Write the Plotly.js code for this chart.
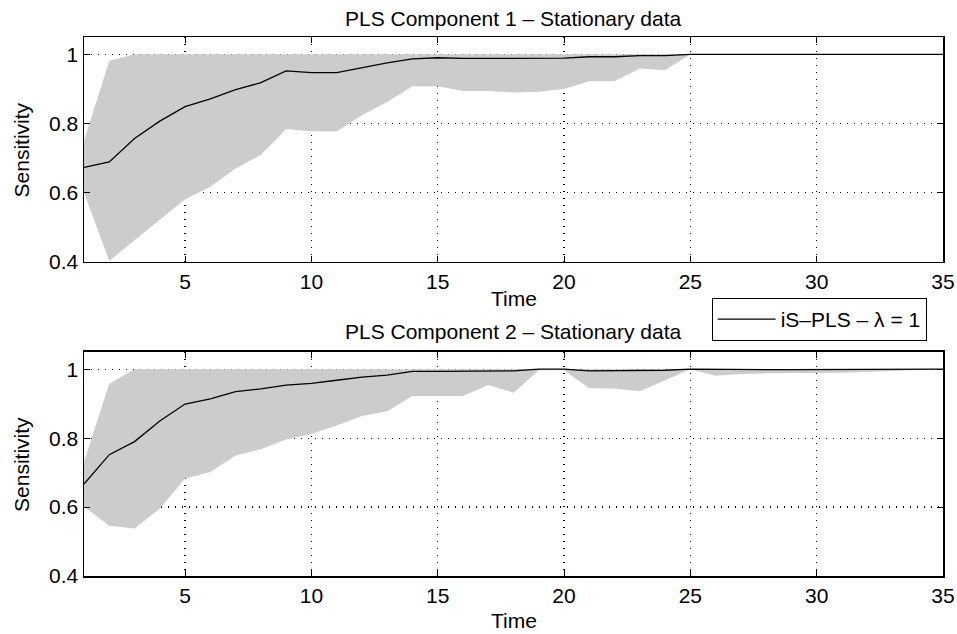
<!DOCTYPE html>
<html>
<head>
<meta charset="utf-8">
<script src="https://cdn.plot.ly/plotly-3.0.1.min.js"></script>
<style>html,body{margin:0;padding:0;background:#fff}#chart{width:957px;height:634px}</style>
</head>
<body>
<div id="chart"></div>
<script>
// Time steps
var time = [1,2,3,4,5,6,7,8,9,10,11,12,13,14,15,16,17,18,19,20,21,22,23,24,25,26,27,28,29,30,31,32,33,34,35];

// Component 1 - mean sensitivity and band
var comp1Mean  = [0.673,0.689,0.757,0.807,0.849,0.871,0.898,0.918,0.952,0.947,0.947,0.962,0.975,0.987,0.990,0.988,0.988,0.988,0.988,0.989,0.993,0.993,0.996,0.996,1.0,1.0,1.0,1.0,1.0,1.0,1.0,1.0,1.0,1.0,1.0];
var comp1Upper = [0.750,0.981,1.0,1.0,1.0,1.0,1.0,1.0,1.0,1.0,1.0,1.0,1.0,1.0,1.0,1.0,1.0,1.0,1.0,1.0,1.0,1.0,1.0,1.0,1.0,1.0,1.0,1.0,1.0,1.0,1.0,1.0,1.0,1.0,1.0];
var comp1Lower = [0.600,0.403,0.463,0.521,0.581,0.617,0.670,0.709,0.784,0.778,0.777,0.824,0.862,0.908,0.908,0.894,0.894,0.890,0.892,0.900,0.922,0.922,0.959,0.954,1.0,1.0,1.0,1.0,1.0,1.0,1.0,1.0,1.0,1.0,1.0];

// Component 2 - mean sensitivity and band
var comp2Mean  = [0.667,0.752,0.790,0.850,0.899,0.914,0.935,0.943,0.954,0.959,0.968,0.977,0.983,0.994,0.994,0.994,0.995,0.995,1.0,1.0,0.995,0.995,0.995,0.997,1.0,0.999,0.999,0.999,0.999,0.999,0.999,1.0,1.0,1.0,1.0];
var comp2Upper = [0.731,0.958,1.0,1.0,1.0,1.0,1.0,1.0,1.0,1.0,1.0,1.0,1.0,1.0,1.0,1.0,1.0,1.0,1.0,1.0,1.0,1.0,1.0,1.0,1.0,1.0,1.0,1.0,1.0,1.0,1.0,1.0,1.0,1.0,1.0];
var comp2Lower = [0.601,0.546,0.538,0.596,0.683,0.702,0.750,0.768,0.796,0.812,0.837,0.864,0.878,0.922,0.922,0.922,0.954,0.932,0.997,0.997,0.945,0.944,0.936,0.967,1.0,0.981,0.986,0.988,0.988,0.988,0.990,0.992,0.996,0.998,1.0];

var xTicks = [5,10,15,20,25,30,35];
var yTicks = [0.4,0.6,0.8,1];
var yTickText = ['0.4','0.6','0.8','1'];

var titles = ['PLS Component 1 \u2013 Stationary data','PLS Component 2 \u2013 Stationary data'];
var seriesName = 'iS\u2013PLS \u2013 \u03bb = 1';

var fillColor = 'rgb(204,204,204)';
var FONT = 'Liberation Sans, Arial, Helvetica, sans-serif';
var FS = 21;

function band(lower, upper, xa, ya) {
  return [
    {x: time, y: lower, xaxis: xa, yaxis: ya, mode: 'lines', line: {width: 0, color: fillColor}, showlegend: false, hoverinfo: 'skip'},
    {x: time, y: upper, xaxis: xa, yaxis: ya, mode: 'lines', line: {width: 0, color: fillColor}, fill: 'tonexty', fillcolor: fillColor, showlegend: false, hoverinfo: 'skip'}
  ];
}

var data = [].concat(
  band(comp1Lower, comp1Upper, 'x', 'y'),
  [{x: time, y: comp1Mean, xaxis: 'x', yaxis: 'y', mode: 'lines', line: {color: 'black', width: 1.3}, name: seriesName, showlegend: true}],
  band(comp2Lower, comp2Upper, 'x2', 'y2'),
  [{x: time, y: comp2Mean, xaxis: 'x2', yaxis: 'y2', mode: 'lines', line: {color: 'black', width: 1.3}, name: seriesName, showlegend: false}]
);

function xAxis(anchor) {
  return {
    anchor: anchor, domain: [0, 1], range: [1, 35],
    tickvals: xTicks, ticks: 'inside', ticklen: 6, tickcolor: 'black', tickwidth: 1,
    showline: true, linecolor: 'black', linewidth: 1.5, mirror: 'ticks',
    showgrid: true, gridcolor: 'black', griddash: '1px,6px', gridwidth: 1.2,
    zeroline: false, tickfont: {family: FONT, size: FS, color: 'black'}
  };
}
function yAxis(anchor, dom) {
  return {
    anchor: anchor, domain: dom, range: [0.4, 1.05],
    tickvals: yTicks, ticktext: yTickText, ticks: 'inside', ticklen: 6, tickcolor: 'black', tickwidth: 1,
    showline: true, linecolor: 'black', linewidth: 1.5, mirror: 'ticks',
    showgrid: true, gridcolor: 'black', griddash: '1px,6px', gridwidth: 1.2,
    zeroline: false, tickfont: {family: FONT, size: FS, color: 'black'}
  };
}

function ann(text, x, y, extra) {
  var a = {text: text, x: x, y: y, xref: 'paper', yref: 'paper', showarrow: false,
           xanchor: 'center', yanchor: 'middle', font: {family: FONT, size: FS, color: 'black'}};
  for (var k in extra) a[k] = extra[k];
  return a;
}

var layout = {
  width: 957, height: 634,
  margin: {l: 84, r: 14, t: 37, b: 58},
  paper_bgcolor: 'white', plot_bgcolor: 'white',
  showlegend: true,
  xaxis: xAxis('y'),
  yaxis: yAxis('x', [0.5826, 1]),
  xaxis2: xAxis('y2'),
  yaxis2: yAxis('x2', [0, 0.4156]),
  legend: {x: 0.7307, y: 0.516, xanchor: 'left', yanchor: 'top',
           bgcolor: 'white', bordercolor: 'black', borderwidth: 1,
           itemwidth: 58,
           font: {family: FONT, size: FS, color: 'black'}},
  annotations: [
    ann(titles[0], 0.5, 1.0334),
    ann(titles[1], 0.5, 0.4527),
    ann('Time', 0.5, 0.514),
    ann('Time', 0.5, -0.0817),
    ann('Sensitivity', -0.0722, 0.7913, {textangle: -90}),
    ann('Sensitivity', -0.0722, 0.2078, {textangle: -90})
  ]
};

Plotly.newPlot('chart', data, layout, {displayModeBar: false, staticPlot: true});
</script>
</body>
</html>
